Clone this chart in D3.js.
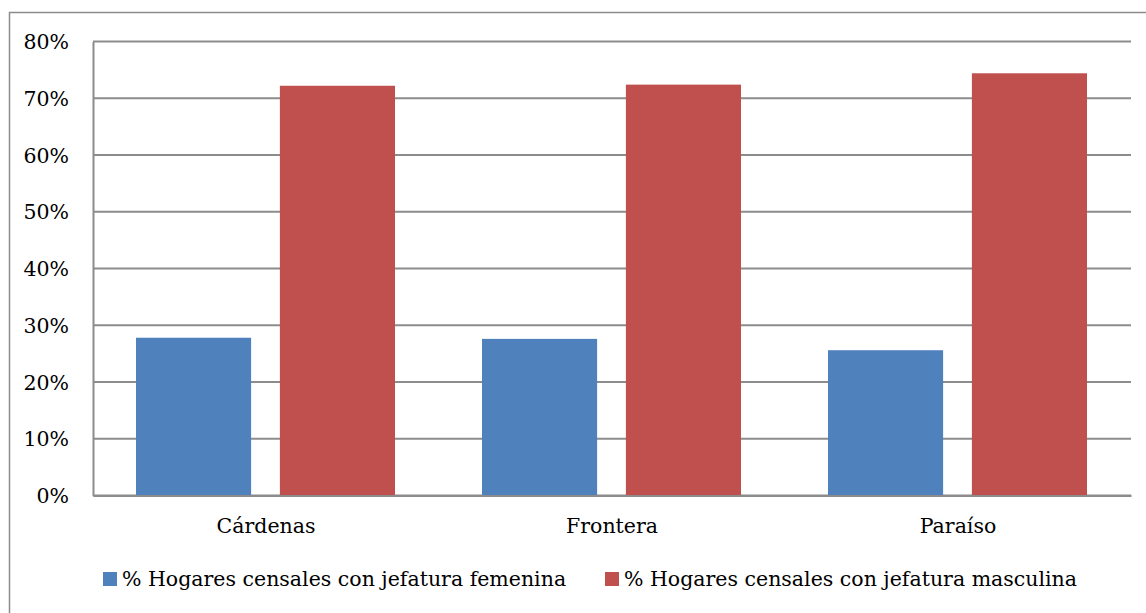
<!DOCTYPE html>
<meta charset="utf-8">
<script src="https://d3js.org/d3.v7.min.js"></script>
<style>
  body { margin: 0; background: #fff; }
</style>
<div id="vis"></div>
<script>

// data
var municipios = ["Cárdenas", "Frontera", "Paraíso"];
var series = ["% Hogares censales con jefatura femenina", "% Hogares censales con jefatura masculina"];
var femenina = [27.8, 27.6, 25.6];
var masculina = [72.2, 72.4, 74.4];
var yTicks = [0, 10, 20, 30, 40, 50, 60, 70, 80];
var colors = ["#4f81bd", "#c0504d"];

var FONT = "'DejaVu Serif', serif";
var FS = "20.5px";
var W = 1146, H = 613;
var margin = {top: 41.5, left: 93};
var width = 1131 - margin.left,
    height = 495.5 - margin.top;

var svg = d3.select("#vis")
  .append("svg")
    .attr("width", W)
    .attr("height", H)
    .style("font-family", FONT);

// outer frame
svg.append("rect")
  .attr("x", 9.5).attr("y", 12.5)
  .attr("width", W).attr("height", H)
  .attr("fill", "none")
  .attr("stroke", "#8c8c8c")
  .attr("stroke-width", 1.5);

var g = svg.append("g")
  .attr("transform", "translate(" + margin.left + "," + margin.top + ")");

var x0 = d3.scaleBand()
  .domain(municipios)
  .range([0, width]);

var x1 = d3.scaleBand()
  .domain(series)
  .range([43, x0.bandwidth() - 44])
  .paddingInner(0.2);

var y = d3.scaleLinear()
  .domain([0, 80])
  .range([height, 0]);

// gridlines
g.append("g")
  .selectAll("line")
  .data(yTicks)
  .enter()
  .append("line")
    .attr("x1", 0)
    .attr("x2", width)
    .attr("y1", function (d) { return y(d); })
    .attr("y2", function (d) { return y(d); })
    .attr("stroke", "#8c8c8c")
    .attr("stroke-width", 2);

// y axis
var yAxis = g.append("g")
  .call(d3.axisLeft(y).tickValues(yTicks).tickSize(0).tickPadding(24)
    .tickFormat(function (d) { return d + "%"; }));
yAxis.attr("font-family", FONT);
yAxis.select(".domain").attr("stroke", "#8c8c8c").attr("stroke-width", 2);
yAxis.selectAll("text").style("font-size", FS).attr("dy", "0.35em");

// bars
var rows = municipios.map(function (m, i) {
  return {m: m, vals: [femenina[i], masculina[i]]};
});

g.append("g")
  .selectAll("g")
  .data(rows)
  .enter()
  .append("g")
    .attr("transform", function (d) { return "translate(" + x0(d.m) + ",0)"; })
  .selectAll("rect")
  .data(function (d) { return d.vals.map(function (v, j) { return {s: series[j], v: v, j: j}; }); })
  .enter()
  .append("rect")
    .attr("x", function (d) { return x1(d.s); })
    .attr("y", function (d) { return y(d.v); })
    .attr("width", x1.bandwidth())
    .attr("height", function (d) { return height - y(d.v); })
    .attr("fill", function (d) { return colors[d.j]; });

// x axis
var xAxis = g.append("g")
  .attr("transform", "translate(0," + height + ")")
  .call(d3.axisBottom(x0).tickSize(0).tickPadding(23));
xAxis.attr("font-family", FONT);
xAxis.select(".domain").attr("stroke", "#8c8c8c").attr("stroke-width", 2);
xAxis.selectAll("text").style("font-size", FS);

// legend
var legendX = [103, 605];
var legend = svg.append("g")
  .selectAll("g")
  .data(series)
  .enter()
  .append("g")
    .attr("transform", function (d, i) { return "translate(" + legendX[i] + ",572)"; });

legend.append("rect")
  .attr("width", 14).attr("height", 14)
  .attr("fill", function (d, i) { return colors[i]; });

legend.append("text")
  .attr("x", 19)
  .attr("y", 14)
  .style("font-size", FS)
  .text(function (d) { return d; });

</script>
